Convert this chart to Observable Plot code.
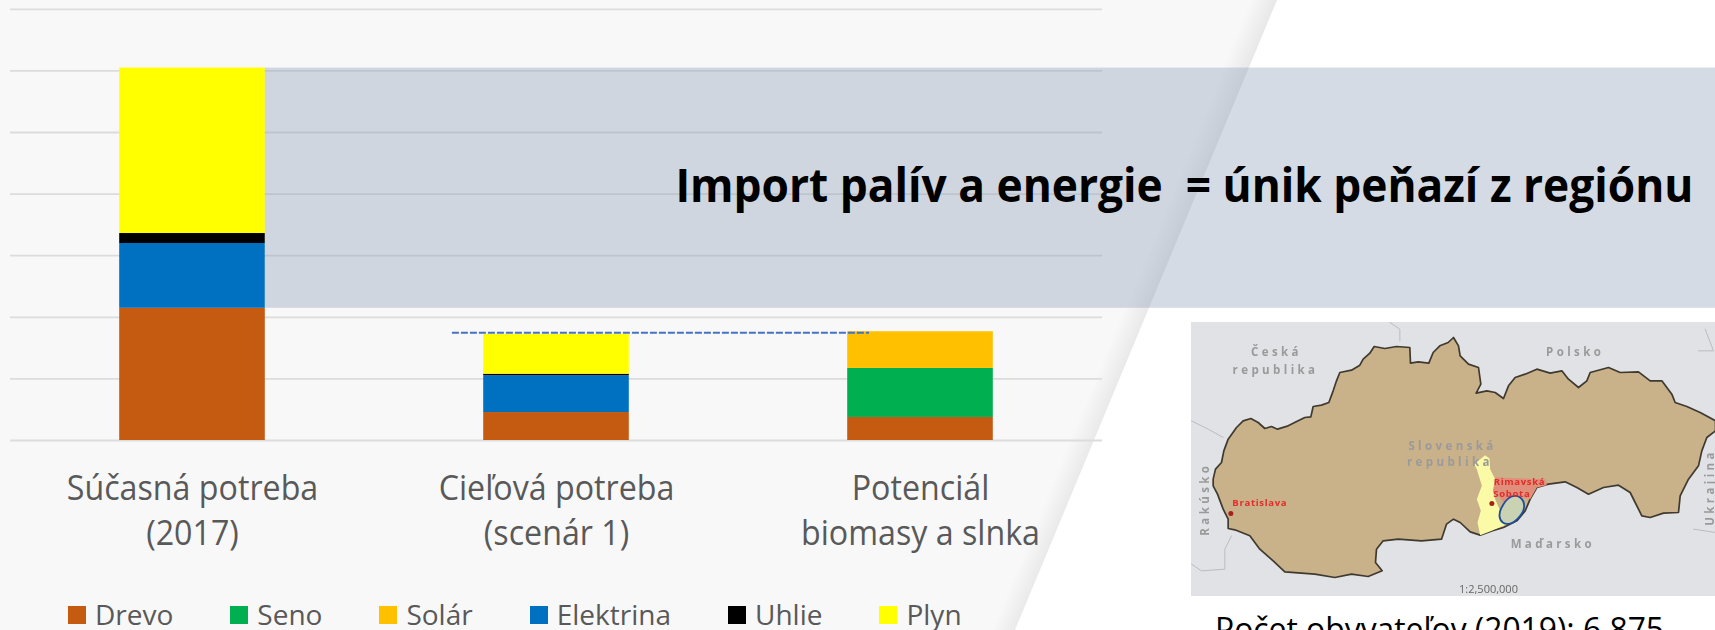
<!DOCTYPE html>
<html><head><meta charset="utf-8">
<script src="https://cdn.jsdelivr.net/npm/d3@7"></script>
<script src="https://cdn.jsdelivr.net/npm/@observablehq/plot@0.6"></script>
<style>
html,body{margin:0;padding:0;width:1715px;height:630px;overflow:hidden;background:#fff;font-family:"Open Sans",sans-serif}
#stage{position:relative;width:1715px;height:630px;overflow:hidden}
#panel{position:absolute;inset:0;background:linear-gradient(112.3deg,#f8f8f8 1157px,#e8e8e8 1181px);clip-path:polygon(0 0,1277px 0,1015px 630px,0 630px)}
#chart,#map{position:absolute}
#chart{left:0;top:0}
#map{left:1191px;top:322px;filter:blur(.6px)}
#legend{position:absolute;left:68px;top:596px;display:flex;gap:57px;font-size:28px;line-height:37px;color:#595959;white-space:nowrap}
#legend div{display:flex;align-items:center}
#legend i{display:block;width:18px;height:18px;margin-right:9px}
.spaced text{letter-spacing:3.4px}
.spaced-red text{letter-spacing:.7px}
</style></head><body>
<div id="stage"><div id="panel"></div><div id="chart"></div><div id="map"></div><div id="legend"></div></div>
<script>
// ---- chart data (arbitrary energy units) ----
const categoriesLine1 = ["Súčasná potreba", "Cieľová potreba", "Potenciál"];
const categoriesLine2 = ["(2017)", "(scenár 1)", "biomasy a slnka"];
const series = ["Drevo", "Seno", "Solár", "Elektrina", "Uhlie", "Plyn"];
const colors = ["#c55a11", "#00b050", "#ffc000", "#0070c0", "#000000", "#ffff00"];
const drevo = [107.3, 22.7, 18.7];
const seno = [0, 0, 39.8];
const solar = [0, 0, 29.8];
const elektrina = [52.6, 29.8, 0];
const uhlie = [8.1, 1.3, 0];
const plyn = [134.3, 32.2, 0];
const gridTicks = [0, 50, 100, 150, 200, 250, 300, 350];
const targetLevel = 87.4;
const headline = "Import palív a energie  = únik peňazí z regiónu";
const caption = "Počet obyvateľov (2019): 6 875";

// ---- map data: traced outlines, in picture units ----
const slovakia = [[65,470],[72,440],[90,420],[97,385],[110,350],[135,315],[155,295],[178,288],[200,300],[220,318],[240,312],[258,320],[290,310],[320,295],[340,285],[358,283],[365,252],[390,248],[412,240],[425,205],[435,175],[445,150],[480,143],[505,128],[515,110],[535,92],[548,72],[580,78],[615,72],[655,75],[657,122],[680,118],[712,122],[725,90],[745,70],[770,60],[786,45],[801,70],[806,100],[831,125],[861,135],[868,185],[854,212],[886,205],[911,210],[936,228],[951,190],[971,165],[1001,155],[1036,140],[1076,152],[1111,145],[1131,170],[1161,195],[1186,175],[1196,150],[1251,135],[1286,150],[1341,148],[1376,175],[1411,175],[1441,215],[1451,240],[1486,252],[1526,270],[1572,295],[1572,325],[1546,345],[1531,385],[1521,430],[1491,470],[1466,520],[1461,570],[1416,572],[1376,585],[1351,580],[1331,540],[1316,510],[1281,488],[1236,495],[1191,515],[1156,495],[1121,478],[1071,485],[1036,495],[1016,530],[1001,565],[976,595],[936,615],[901,625],[866,638],[836,628],[806,600],[786,590],[765,605],[750,650],[690,655],[620,650],[575,655],[555,680],[552,720],[572,745],[530,762],[480,755],[430,765],[370,755],[280,748],[245,715],[205,680],[175,640],[130,622],[110,618],[110,590],[95,560],[78,515],[65,490],[65,470]];
const district = [[866,410],[881,398],[894,408],[896,440],[911,470],[904,505],[911,530],[924,560],[926,590],[946,605],[901,625],[866,638],[858,600],[868,565],[856,530],[871,490],[856,440],[848,425],[866,410]];
const neighbour = [[911,465],[1061,470],[1066,488],[1036,495],[1016,530],[996,525],[966,520],[936,540],[921,520],[904,505],[911,465]];
const focus = [[961,522],[986,525],[998,550],[986,580],[956,603],[934,600],[924,580],[936,545]];
const borders = [
  [[595,0],[625,20],[625,55]],
  [[0,295],[50,320],[95,345]],
  [[120,640],[100,680],[100,740],[30,745],[0,725]],
  [[1506,620],[1572,630]],
  [[1541,20],[1566,85],[1521,85]]
];
const mapLabels = [
  {t:"Česká",x:255,y:88},{t:"republika",x:252,y:142},{t:"Polsko",x:1151,y:90},
  {t:"Slovenská",x:783,y:370},{t:"republika",x:775,y:420},{t:"Maďarsko",x:1084,y:665}];
const mapSideLabels = [{t:"Rakúsko",x:40,y:530},{t:"Ukrajina",x:1556,y:495}];
const mapRedLabels = [{t:"Bratislava",x:205,y:541},{t:"Rimavská",x:984,y:478},{t:"Sobota",x:961,y:515}];
const mapDots = [{x:118,y:573},{x:901,y:543}];

// ---- tables ----
const values = [drevo, seno, solar, elektrina, uhlie, plyn];
const table = [];
categoriesLine1.forEach((_, i) => {
  let base = 0;
  series.forEach((s, k) => {
    const v = values[k][i];
    if (v > 0) table.push({i, s, y1: base, y2: base + v});
    base += v;
  });
});
const imported = [{y1: drevo[0], y2: drevo[0] + elektrina[0] + uhlie[0] + plyn[0]}];
const indexRows = categoriesLine1.map((_, i) => i);
const barHalf = 0.2;
const borderRows = borders.flatMap((b, id) => b.map(p => ({id, x: p[0], y: p[1]})));

const chart = Plot.plot({
  width: 1715, height: 630,
  marginLeft: 10, marginRight: 613, marginTop: 8.8, marginBottom: 190,
  style: {background: "transparent", fontFamily: '"Open Sans",sans-serif'},
  x: {domain: [-0.5, 2.5], axis: null},
  y: {domain: [0, 350], axis: null},
  color: {domain: series, range: colors},
  marks: [
    Plot.ruleY(gridTicks, {stroke: "#dcdcdc", strokeWidth: 1.8}),
    Plot.rect(table, {x1: d => d.i - barHalf, x2: d => d.i + barHalf, y1: "y1", y2: "y2", fill: "s"}),
    Plot.rect(imported, {x1: barHalf, x2: 4.2, y1: "y1", y2: "y2", fill: "#879bb5", fillOpacity: 0.36}),
    Plot.ruleY([targetLevel], {x1: 0.714, x2: 1.86, stroke: "#4472c4", strokeWidth: 2, strokeDasharray: "7 2"}),
    Plot.text(indexRows, {x: d => d, y: 0, text: d => categoriesLine1[d], dy: 48, fontSize: 35, fill: "#595959", className: "cond-cat"}),
    Plot.text(indexRows, {x: d => d, y: 0, text: d => categoriesLine2[d], dy: 93, fontSize: 35, fill: "#595959", className: "cond-cat"}),
    Plot.text([headline], {x: 2.725, y: 206, text: d => d, fontSize: 47, fontWeight: 700, fill: "#000", className: "cond-head"}),
    Plot.text([caption], {x: 3.426, y: -163, text: d => d, fontSize: 33, lineAnchor: "bottom", fill: "#000", className: "cond-cap"})
  ]
});
document.getElementById("chart").append(chart);

const mapPlot = Plot.plot({
  width: 524, height: 274, margin: 0,
  style: {background: "#e0e2e5", fontFamily: '"Open Sans",sans-serif'},
  x: {domain: [0, 1572], axis: null},
  y: {domain: [0, 822], reverse: true, axis: null},
  marks: [
    Plot.line(borderRows, {x: "x", y: "y", z: "id", stroke: "#b9bcc0", strokeWidth: 1}),
    Plot.line(slovakia, {x: "0", y: "1", fill: "#c9b189", stroke: "#3f3a30", strokeWidth: 1.7}),
    Plot.line(neighbour, {x: "0", y: "1", fill: "#e0907a"}),
    Plot.line(district, {x: "0", y: "1", fill: "#fbfaa6"}),
    Plot.line(focus, {x: "0", y: "1", curve: "catmull-rom-closed", fill: "#c9d3b4", stroke: "#1f4e9c", strokeWidth: 1.8}),
    Plot.text(mapLabels, {x: "x", y: "y", text: "t", fontSize: 11.5, fontWeight: 700, fill: "#9a9a9a", className: "spaced"}),
    Plot.text(mapSideLabels, {x: "x", y: "y", text: "t", rotate: -90, fontSize: 11.5, fontWeight: 700, fill: "#9a9a9a", className: "spaced"}),
    Plot.text(mapRedLabels, {x: "x", y: "y", text: "t", fontSize: 9.5, fontWeight: 700, fill: "#e32b2b", className: "spaced-red"}),
    Plot.dot(mapDots, {x: "x", y: "y", r: 2.5, fill: "#a8201a"}),
    Plot.text(["1:2,500,000"], {x: 891, y: 800, text: d => d, fontSize: 11, fill: "#666"})
  ]
});
document.getElementById("map").append(mapPlot);

// Reference text is condensed: fit each line to the width.
function fit(sel, width) {
  chart.querySelectorAll(sel + " text").forEach(t => {
    t.setAttribute("textLength", typeof width === "function" ? width(t) : width);
    t.setAttribute("lengthAdjust", "spacingAndGlyphs");
  });
}
fit(".cond-cat", t => t.getComputedTextLength() * 0.92);
fit(".cond-head", 1018);
fit(".cond-cap", 449);

const legend = document.getElementById("legend");
series.forEach((s, k) => {
  const row = document.createElement("div");
  const sw = document.createElement("i");
  sw.style.background = colors[k];
  row.append(sw, document.createTextNode(s));
  legend.append(row);
});
</script>
</body></html>
